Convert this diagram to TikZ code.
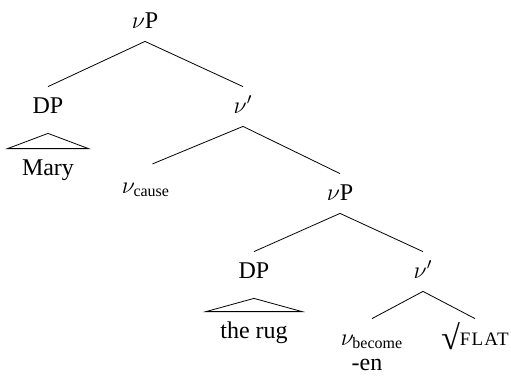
\documentclass[tikz,border=0pt]{standalone}
\usepackage{fontspec}
\setmainfont{Liberation Serif}
\usetikzlibrary{positioning}
\tikzset{
    cat/.style = {anchor=base, inner xsep=1pt, inner ysep=2pt,
                  text height=11pt, text depth=4.5pt},
    leaf/.style = {cat, inner xsep=7pt},
    roof/.style = {line join=miter}
}
\newcommand{\vhead}[1]{$\nu_{\mathrm{#1}}$}
\newcommand{\rootsym}[1]{\raisebox{-2pt}{\fontsize{17}{17}\selectfont √}{\fontsize{9.5}{10}\selectfont\addfontfeature{LetterSpace=6}#1}}

\begin{document}
\begin{tikzpicture}[x=0.5pt, y=-0.5pt, font=\fontsize{12}{14.4}\selectfont]
    \useasboundingbox (0,0) rectangle (511,376);

    \node[cat] (vp1) at (145,28) {$\nu$P};
    \node[cat] (dp1) at (48,113) {DP};
    \node[cat] (vbar1) at (243,113) {$\nu'$};
    \node[leaf] (mary) at (48,175) {Mary};
    \node[cat] (vcause) at (146,193) {\vhead{cause}};
    \node[cat] (vp2) at (340,200) {$\nu$P};
    \node[cat] (dp2) at (254,278) {DP};
    \node[cat] (vbar2) at (423,278) {$\nu'$};
    \node[leaf] (rug) at (254,338) {the rug};
    \node[cat] (vbecome) at (372,345) {\vhead{become}};
    \node[cat] (flat) at (475,345) {\rootsym{FLAT}};
    \node[anchor=base, inner sep=0pt] (en) at (367,370) {-en};

    % branches
    \draw (vp1.south) -- (dp1.north);
    \draw (vp1.south) -- (vbar1.north);
    \draw[shorten >=3.5pt] (vbar1.south) -- (vcause.north);
    \draw (vbar1.south) -- (vp2.north);
    \draw (vp2.south) -- (dp2.north);
    \draw (vp2.south) -- (vbar2.north);
    \draw (vbar2.south) -- (vbecome.north);
    \draw (vbar2.south) -- (flat.north);

    % roofs
    \draw[roof] (mary.north west) -- ([yshift=-3.5pt]dp1.south) -- (mary.north east) -- cycle;
    \draw[roof] (rug.north west) -- ([yshift=-3.5pt]dp2.south) -- (rug.north east) -- cycle;
\end{tikzpicture}
\end{document}
